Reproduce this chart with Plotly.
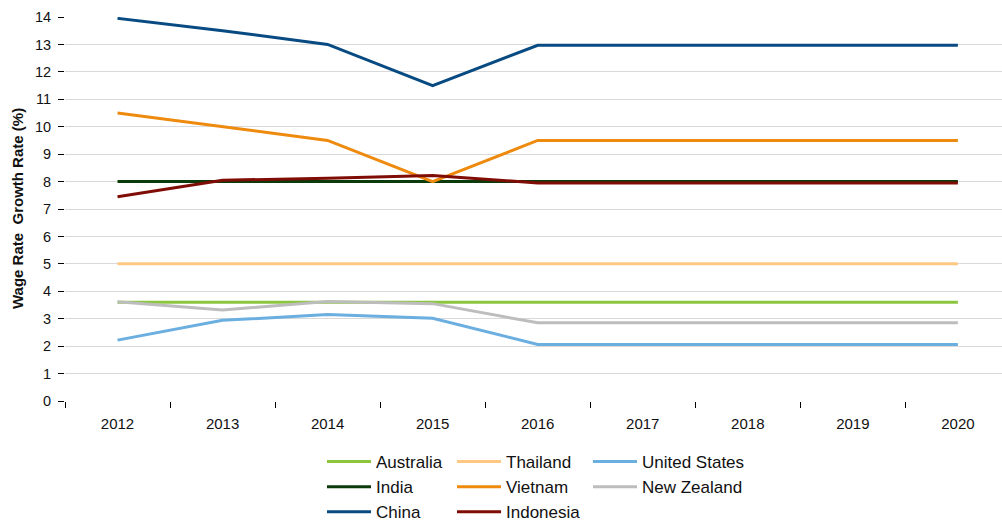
import plotly.graph_objects as go

years = ["2012", "2013", "2014", "2015", "2016", "2017", "2018", "2019", "2020"]

australia = [3.6, 3.6, 3.6, 3.6, 3.6, 3.6, 3.6, 3.6, 3.6]
india = [8.0, 8.0, 8.0, 8.0, 8.0, 8.0, 8.0, 8.0, 8.0]
china = [13.95, 13.5, 13.0, 11.5, 12.97, 12.97, 12.97, 12.97, 12.97]
thailand = [5.0, 5.0, 5.0, 5.0, 5.0, 5.0, 5.0, 5.0, 5.0]
vietnam = [10.5, 10.0, 9.5, 8.0, 9.5, 9.5, 9.5, 9.5, 9.5]
indonesia = [7.45, 8.05, 8.12, 8.22, 7.95, 7.95, 7.95, 7.95, 7.95]
united_states = [2.22, 2.94, 3.15, 3.02, 2.06, 2.06, 2.06, 2.06, 2.06]
new_zealand = [3.62, 3.32, 3.63, 3.55, 2.85, 2.85, 2.85, 2.85, 2.85]

# (name, values, colour, legend column, drawing order)
series = [
    ("Australia", australia, "#8CC63F", "legend", 1),
    ("India", india, "#0B3B0B", "legend", 2),
    ("China", china, "#084A82", "legend", 3),
    ("Thailand", thailand, "#FFC882", "legend2", 4),
    ("Vietnam", vietnam, "#EE8A0E", "legend2", 5),
    ("Indonesia", indonesia, "#7F0C05", "legend2", 6),
    ("United States", united_states, "#6BAEE0", "legend3", 7),
    ("New Zealand", new_zealand, "#BDBDBD", "legend3", 8),
]

fig = go.Figure()
for name, vals, color, leg, z in series:
    fig.add_trace(go.Scatter(
        x=years, y=vals, name=name, mode="lines",
        line=dict(color=color, width=3),
        legend=leg, zorder=z,
    ))

# three legend columns laid out below the plot
legend_style = dict(
    orientation="v", xref="container", yref="container",
    xanchor="left", yanchor="top", y=1 - 444 / 522,
    font=dict(size=17, color="#111111"), itemwidth=44,
    bgcolor="rgba(0,0,0,0)", tracegroupgap=0,
)

fig.update_layout(
    width=1002, height=522,
    margin=dict(l=65, r=0, t=17, b=121, autoexpand=False),
    paper_bgcolor="white", plot_bgcolor="white",
    font=dict(family="Liberation Sans, Arial, sans-serif", color="#111111"),
    showlegend=True,
    legend=dict(x=322 / 1002, **legend_style),
    legend2=dict(x=452 / 1002, **legend_style),
    legend3=dict(x=588 / 1002, **legend_style),
    annotations=[dict(
        text="<b>Wage Rate\u00a0\u00a0Growth Rate (%)</b>",
        xref="paper", yref="paper", x=-48 / 937, y=0.5,
        xanchor="center", yanchor="middle", textangle=-90,
        showarrow=False, font=dict(size=15, color="#111111"),
    )],
)

fig.update_xaxes(
    type="category", range=[-0.5, 8.42],
    showline=True, linecolor="#000000", linewidth=1,
    ticks="outside", tickson="boundaries", ticklen=6, tickcolor="#000000",
    showgrid=False, tickfont=dict(size=15), zeroline=False,
    ticklabelstandoff=9,
)
fig.update_yaxes(
    range=[0, 14], dtick=1,
    showline=True, linecolor="#000000", linewidth=1,
    ticks="outside", ticklen=6, tickcolor="#000000",
    showgrid=True, gridcolor="#D9D9D9", gridwidth=1,
    tickfont=dict(size=14.5), zeroline=False,
    ticklabelstandoff=4,
)

fig.write_html("out.html")
